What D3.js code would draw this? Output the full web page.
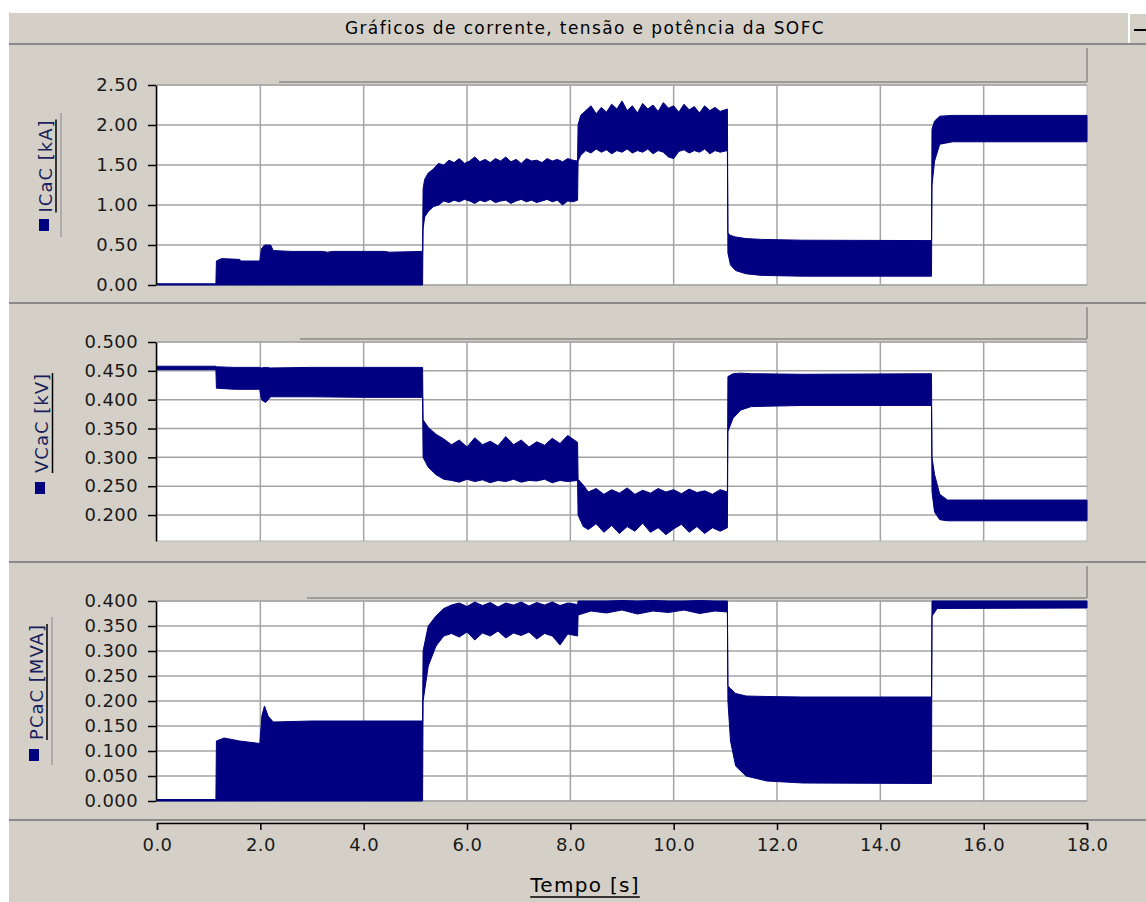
<!DOCTYPE html>
<html lang="pt">
<head>
<meta charset="UTF-8">
<title>Gráficos de corrente, tensão e potência da SOFC</title>
<script src="https://d3js.org/d3.v7.min.js"></script>
<style>
  body { margin: 0; background: #fff; }
  svg { display: block; font-family: "DejaVu Sans", "Liberation Sans", sans-serif; }
  .tick text { font-family: "DejaVu Sans", sans-serif; font-size: 18px; fill: #1a1a1a; letter-spacing: 0.4px; }
</style>
</head>
<body>
<svg id="chart" width="1146" height="902"></svg>
<script>
// ---- data: [time s, lower envelope, upper envelope] ----
const timeTicks = [0, 2, 4, 6, 8, 10, 12, 14, 16, 18];
const currentTicks = [0, 0.5, 1.0, 1.5, 2.0, 2.5];
const voltageTicks = [0.2, 0.25, 0.3, 0.35, 0.4, 0.45, 0.5];
const powerTicks = [0, 0.05, 0.1, 0.15, 0.2, 0.25, 0.3, 0.35, 0.4];

const currentBand = [
  [0, 0, 0.015], [1.14, 0, 0.015],
  [1.15, 0, 0.30], [1.25, 0, 0.33], [1.6, 0, 0.32], [1.62, 0, 0.30], [1.99, 0, 0.30],
  [2.02, 0, 0.45], [2.08, 0, 0.50], [2.2, 0, 0.50], [2.25, 0, 0.43], [2.6, 0, 0.42],
  [3.2, 0, 0.42], [3.3, 0, 0.41], [3.4, 0, 0.42], [4.4, 0, 0.42], [4.5, 0, 0.41], [5.14, 0, 0.42],
  [5.15, 0.70, 1.20], [5.18, 0.85, 1.32], [5.25, 0.92, 1.40], [5.35, 0.98, 1.45], [5.45, 1.00, 1.52],
  [5.55, 1.05, 1.50], [5.65, 1.03, 1.56], [5.75, 1.06, 1.53], [5.85, 1.04, 1.58], [5.95, 1.07, 1.52],
  [6.05, 1.05, 1.55], [6.15, 1.02, 1.60], [6.25, 1.06, 1.54], [6.35, 1.04, 1.57], [6.45, 1.07, 1.53],
  [6.55, 1.03, 1.58], [6.65, 1.05, 1.55], [6.75, 1.06, 1.60], [6.85, 1.02, 1.54], [6.95, 1.05, 1.57],
  [7.05, 1.07, 1.52], [7.15, 1.04, 1.58], [7.25, 1.06, 1.55], [7.35, 1.03, 1.56], [7.45, 1.05, 1.53],
  [7.55, 1.07, 1.58], [7.65, 1.04, 1.55], [7.75, 1.06, 1.57], [7.85, 1.00, 1.54], [7.95, 1.05, 1.58],
  [8.05, 1.04, 1.56], [8.14, 1.06, 1.55],
  [8.15, 1.55, 2.00], [8.2, 1.62, 2.12], [8.3, 1.68, 2.18], [8.4, 1.65, 2.24], [8.5, 1.70, 2.14],
  [8.6, 1.66, 2.22], [8.7, 1.69, 2.16], [8.8, 1.64, 2.26], [8.9, 1.68, 2.20], [9.0, 1.66, 2.30],
  [9.1, 1.70, 2.18], [9.2, 1.65, 2.24], [9.3, 1.68, 2.15], [9.4, 1.66, 2.27], [9.5, 1.70, 2.20],
  [9.6, 1.64, 2.25], [9.7, 1.68, 2.17], [9.8, 1.66, 2.28], [9.9, 1.60, 2.21], [10.0, 1.58, 2.24],
  [10.1, 1.67, 2.16], [10.2, 1.69, 2.26], [10.3, 1.65, 2.19], [10.4, 1.68, 2.23], [10.5, 1.66, 2.15],
  [10.6, 1.70, 2.24], [10.7, 1.64, 2.18], [10.8, 1.68, 2.22], [10.9, 1.66, 2.17], [11.04, 1.68, 2.20],
  [11.05, 0.40, 0.65], [11.1, 0.25, 0.62], [11.2, 0.18, 0.60], [11.4, 0.14, 0.58], [11.7, 0.12, 0.57],
  [12.5, 0.11, 0.56], [14.99, 0.11, 0.555],
  [15.0, 1.25, 1.95], [15.05, 1.55, 2.05], [15.15, 1.76, 2.11], [15.4, 1.79, 2.12], [18, 1.79, 2.12]
];

const voltageBand = [
  [0, 0.452, 0.458], [1.14, 0.452, 0.458],
  [1.15, 0.420, 0.457], [1.5, 0.418, 0.456], [1.99, 0.418, 0.456], [2.02, 0.400, 0.455],
  [2.1, 0.395, 0.456], [2.2, 0.405, 0.455], [3.0, 0.405, 0.456], [4.0, 0.404, 0.456], [5.14, 0.404, 0.456],
  [5.15, 0.30, 0.365], [5.25, 0.283, 0.352], [5.4, 0.270, 0.340], [5.55, 0.262, 0.332], [5.7, 0.260, 0.322],
  [5.85, 0.257, 0.330], [6.0, 0.262, 0.318], [6.15, 0.258, 0.334], [6.3, 0.261, 0.322], [6.45, 0.256, 0.328],
  [6.6, 0.260, 0.320], [6.75, 0.258, 0.336], [6.9, 0.262, 0.322], [7.05, 0.257, 0.330], [7.2, 0.260, 0.318],
  [7.35, 0.259, 0.327], [7.5, 0.262, 0.321], [7.65, 0.256, 0.333], [7.8, 0.260, 0.324], [7.95, 0.258, 0.338],
  [8.14, 0.260, 0.326],
  [8.15, 0.200, 0.262], [8.25, 0.180, 0.252], [8.35, 0.175, 0.240], [8.5, 0.185, 0.246], [8.65, 0.170, 0.236],
  [8.8, 0.182, 0.244], [8.95, 0.168, 0.238], [9.1, 0.180, 0.247], [9.25, 0.172, 0.236], [9.4, 0.186, 0.243],
  [9.55, 0.170, 0.238], [9.7, 0.178, 0.246], [9.85, 0.166, 0.240], [10.0, 0.176, 0.244], [10.15, 0.184, 0.237],
  [10.3, 0.170, 0.245], [10.45, 0.180, 0.239], [10.6, 0.168, 0.242], [10.75, 0.178, 0.236], [10.9, 0.172, 0.244],
  [11.04, 0.178, 0.240],
  [11.05, 0.345, 0.440], [11.15, 0.368, 0.445], [11.3, 0.382, 0.446], [11.5, 0.388, 0.445], [12.5, 0.390, 0.444],
  [14.99, 0.390, 0.445],
  [15.0, 0.240, 0.300], [15.05, 0.205, 0.270], [15.15, 0.192, 0.236], [15.3, 0.190, 0.226], [18, 0.190, 0.226]
];

const powerBand = [
  [0, 0, 0.003], [1.14, 0, 0.003],
  [1.15, 0, 0.120], [1.3, 0, 0.126], [1.6, 0, 0.120], [1.99, 0, 0.115], [2.03, 0, 0.170],
  [2.08, 0, 0.190], [2.15, 0, 0.170], [2.25, 0, 0.158], [3.0, 0, 0.160], [4.0, 0, 0.160], [5.14, 0, 0.160],
  [5.15, 0.20, 0.30], [5.25, 0.27, 0.35], [5.4, 0.31, 0.37], [5.55, 0.330, 0.385], [5.7, 0.335, 0.392],
  [5.85, 0.328, 0.396], [6.0, 0.338, 0.389], [6.15, 0.322, 0.398], [6.3, 0.336, 0.391], [6.45, 0.330, 0.397],
  [6.6, 0.340, 0.388], [6.75, 0.326, 0.396], [6.9, 0.336, 0.392], [7.05, 0.331, 0.398], [7.2, 0.338, 0.390],
  [7.35, 0.324, 0.397], [7.5, 0.335, 0.392], [7.65, 0.330, 0.398], [7.8, 0.312, 0.391], [7.95, 0.334, 0.396],
  [8.14, 0.330, 0.393],
  [8.15, 0.372, 0.400], [8.4, 0.380, 0.400], [8.7, 0.376, 0.400], [9.0, 0.382, 0.401], [9.3, 0.374, 0.400],
  [9.6, 0.380, 0.401], [9.9, 0.377, 0.400], [10.2, 0.382, 0.400], [10.5, 0.375, 0.401], [10.8, 0.380, 0.400],
  [11.04, 0.378, 0.400],
  [11.05, 0.200, 0.230], [11.1, 0.120, 0.225], [11.2, 0.070, 0.215], [11.4, 0.050, 0.210], [11.8, 0.040, 0.209],
  [12.5, 0.036, 0.208], [14.99, 0.035, 0.208],
  [15.0, 0.370, 0.400], [15.1, 0.385, 0.400], [18, 0.386, 0.400]
];

// ---- layout ----
const svg = d3.select("#chart");
const grey = "#d4d0c8", navy = "#000080", gridCol = "#a3a3a3";
const x0 = 157, x1 = 1087;
const x = d3.scaleLinear().domain([0, 18]).range([x0, x1]);

svg.append("rect").attr("x", 9).attr("y", 12).attr("width", 1137).attr("height", 890).attr("fill", grey);

// title bar
svg.append("line").attr("x1", 10).attr("x2", 1128).attr("y1", 12.5).attr("y2", 12.5).attr("stroke", "#fff");
svg.append("line").attr("x1", 10).attr("x2", 1128).attr("y1", 44).attr("y2", 44).attr("stroke", "#808080").attr("stroke-width", 2);
svg.append("text").attr("x", 585).attr("y", 34).attr("text-anchor", "middle")
  .attr("font-size", 17).attr("letter-spacing", 1.4).attr("fill", "#000")
  .text("Gráficos de corrente, tensão e potência da SOFC");
svg.append("rect").attr("x", 1128).attr("y", 12).attr("width", 18).attr("height", 32).attr("fill", "#fff");
svg.append("rect").attr("x", 1130).attr("y", 14).attr("width", 16).attr("height", 30).attr("fill", grey);
svg.append("line").attr("x1", 1134).attr("x2", 1146).attr("y1", 30).attr("y2", 30).attr("stroke", "#000").attr("stroke-width", 2);

const panels = [
  { label: "ICaC [kA]", band: currentBand, domain: [0, 2.5], ticks: currentTicks, fmt: ".2f",
    top: 85, bottom: 285, sepTop: 44, boxX: 279, txtX: 52, txtY: 166, ulX: 56, greyX: 61, greyY: [113, 237], mk: [39, 219] },
  { label: "VCaC [kV]", band: voltageBand, domain: [0.155, 0.5], ticks: voltageTicks, fmt: ".3f",
    top: 342, bottom: 541, sepTop: 303, boxX: 300, txtX: 48, txtY: 423, ulX: 52.5, greyX: null, greyY: null, mk: [35, 482] },
  { label: "PCaC [MVA]", band: powerBand, domain: [0, 0.4], ticks: powerTicks, fmt: ".3f",
    top: 601, bottom: 801, sepTop: 562, boxX: 307, txtX: 43, txtY: 682, ulX: 47, greyX: 52, greyY: [617, 765], mk: [29, 749] }
];

panels.forEach(p => {
  const y = d3.scaleLinear().domain(p.domain).range([p.bottom, p.top]);
  const g = svg.append("g");

  // separator above panel
  g.append("line").attr("x1", 9).attr("x2", 1146).attr("y1", p.sepTop).attr("y2", p.sepTop)
    .attr("stroke", "#8a8a8a").attr("stroke-width", 2);
  // header box edges
  g.append("line").attr("x1", p.boxX).attr("x2", x1).attr("y1", p.top - 3).attr("y2", p.top - 3)
    .attr("stroke", "#8a8a8a").attr("stroke-width", 1.5);
  g.append("line").attr("x1", x1).attr("x2", x1).attr("y1", p.sepTop + 4).attr("y2", p.top - 3)
    .attr("stroke", "#8a8a8a").attr("stroke-width", 1.5);

  // plot background + grid
  g.append("rect").attr("x", x0).attr("y", p.top).attr("width", x1 - x0).attr("height", p.bottom - p.top)
    .attr("fill", "#fff").attr("stroke", "#b5b5b5");
  g.selectAll(".hg").data(p.ticks).join("line")
    .attr("x1", x0).attr("x2", x1).attr("y1", d => y(d)).attr("y2", d => y(d))
    .attr("stroke", gridCol).attr("stroke-width", 1.5);
  g.selectAll(".vg").data(timeTicks.slice(1, -1)).join("line")
    .attr("x1", d => x(d)).attr("x2", d => x(d)).attr("y1", p.top).attr("y2", p.bottom)
    .attr("stroke", gridCol).attr("stroke-width", 1.5);

  // signal envelope
  const area = d3.area().x(d => x(d[0])).y0(d => y(d[1])).y1(d => y(d[2]));
  g.append("path").datum(p.band).attr("d", area)
    .attr("fill", navy).attr("stroke", navy).attr("stroke-width", 1);

  // y axis
  const ax = g.append("g").attr("transform", `translate(${x0 - 1},0)`)
    .call(d3.axisLeft(y).tickValues(p.ticks).tickFormat(d3.format(p.fmt)).tickSize(8).tickSizeOuter(0).tickPadding(10));
  ax.select(".domain").attr("stroke", "#000").attr("stroke-width", 1.5);
  ax.selectAll(".tick line").attr("stroke", "#000").attr("stroke-width", 1.5);

  // rotated label
  const t = g.append("text").attr("transform", `translate(${p.txtX},${p.txtY}) rotate(-90)`)
    .attr("text-anchor", "middle").attr("font-size", 18).attr("fill", "#1a1f5c")
    .attr("letter-spacing", 1).text(p.label);
  const len = t.node().getComputedTextLength();
  g.append("line").attr("x1", p.ulX).attr("x2", p.ulX).attr("y1", p.txtY - len / 2).attr("y2", p.txtY + len / 2)
    .attr("stroke", "#000").attr("stroke-width", 1.5);
  if (p.greyX) {
    g.append("line").attr("x1", p.greyX).attr("x2", p.greyX).attr("y1", p.greyY[0]).attr("y2", p.greyY[1])
      .attr("stroke", "#a0a0a0").attr("stroke-width", 1.5);
  }
  g.append("rect").attr("x", p.mk[0]).attr("y", p.mk[1]).attr("width", 10).attr("height", 12).attr("fill", navy);
});

// bottom separator + time axis
svg.append("line").attr("x1", 9).attr("x2", 1146).attr("y1", 820).attr("y2", 820)
  .attr("stroke", "#8a8a8a").attr("stroke-width", 2);
const xa = svg.append("g").attr("transform", "translate(0,823)")
  .call(d3.axisBottom(x).tickValues(timeTicks).tickFormat(d3.format(".1f")).tickSize(7).tickSizeOuter(7).tickPadding(8));
xa.select(".domain").attr("stroke", "#000").attr("stroke-width", 1.5);
xa.selectAll(".tick line").attr("stroke", "#000").attr("stroke-width", 1.5);

const xl = svg.append("text").attr("x", 585).attr("y", 892).attr("text-anchor", "middle")
  .attr("font-size", 20).attr("letter-spacing", 1.3).attr("fill", "#000").text("Tempo [s]");
const xlw = xl.node().getComputedTextLength();
svg.append("line").attr("x1", 585 - xlw / 2).attr("x2", 585 + xlw / 2).attr("y1", 897).attr("y2", 897)
  .attr("stroke", "#000").attr("stroke-width", 1.5);
</script>
</body>
</html>
